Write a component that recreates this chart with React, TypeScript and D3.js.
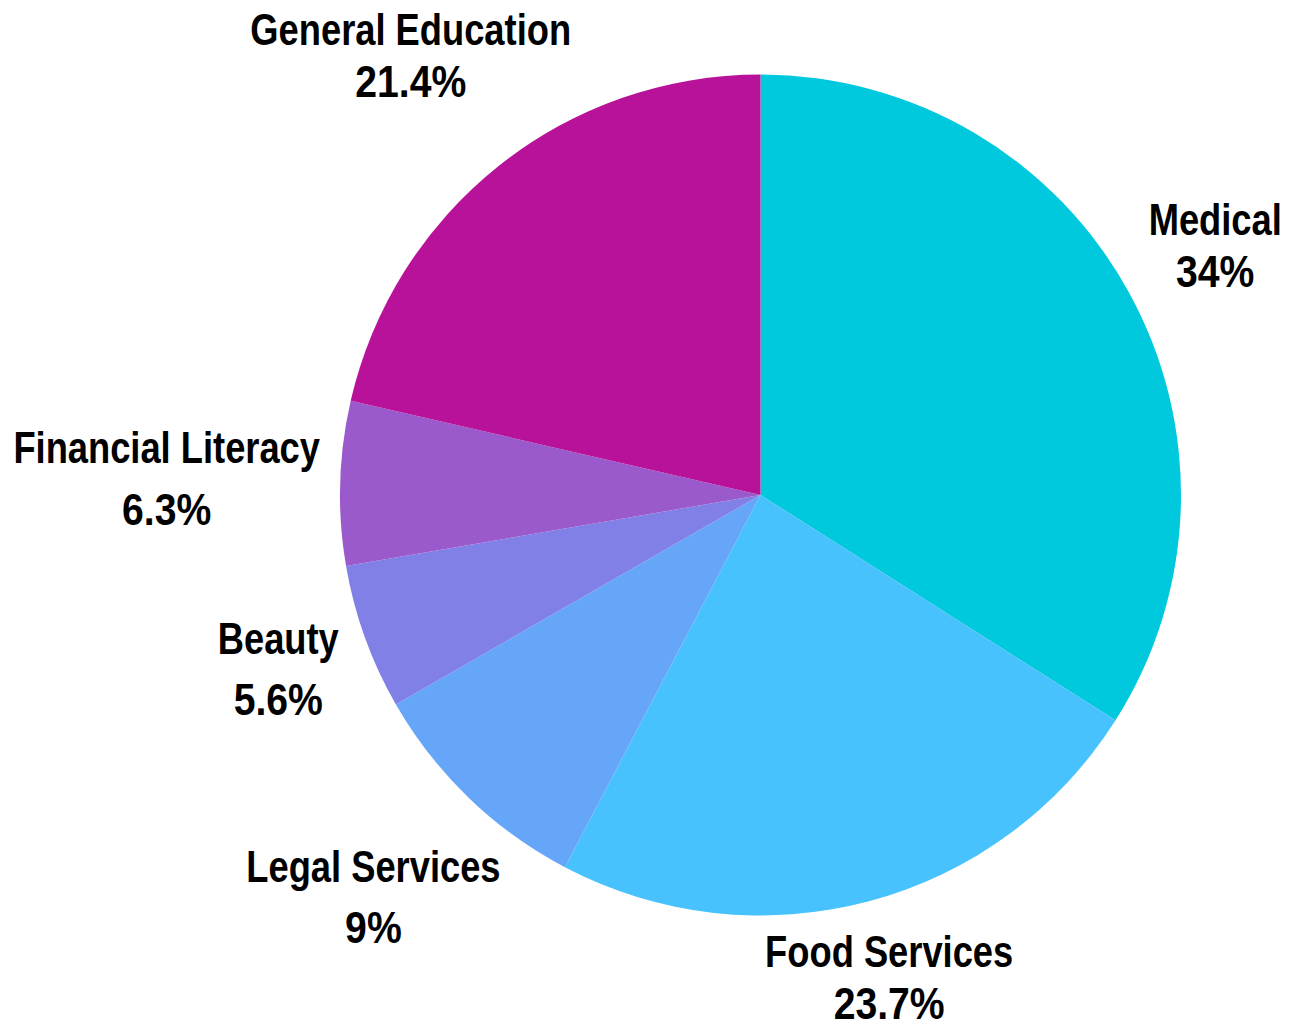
import React, { useEffect, useRef } from 'react';
import * as d3 from 'd3';

const categories = ['Medical', 'Food Services', 'Legal Services', 'Beauty', 'Financial Literacy', 'General Education'];
const values = [34, 23.7, 9, 5.6, 6.3, 21.4];
const colors = ['#00C9DD', '#48C2FD', '#66A6F9', '#8080E6', '#9A5ACB', '#B8129A'];

const W = 1294;
const H = 1024;

export default function App() {
  const ref = useRef<SVGSVGElement>(null);
  useEffect(() => {
    const svg = d3.select(ref.current);
    svg.selectAll('*').remove();
    const cx = 760.5, cy = 495, r = 420.5;
    const g = svg.append('g').attr('transform', `translate(${cx},${cy})`);
    const pie = d3.pie<number>().sort(null).value((d) => d);
    const arcs = pie(values);
    const arc = d3.arc<d3.PieArcDatum<number>>().innerRadius(0).outerRadius(r);
    g.selectAll('path.slice')
      .data(arcs)
      .join('path')
      .attr('class', 'slice')
      .attr('d', arc as any)
      .attr('fill', (_d, i) => colors[i]);

    const fs = 44;
    const sxName = 0.825;
    const sxPct = 0.89;
    const cap = 0.716 * fs;
    const gap = 20.5;
    const desc = 0.21 * fs;
    const clear = r + 20;
    const clamp = (v: number, lo: number, hi: number) => Math.max(lo, Math.min(hi, v));
    const font = "'Liberation Sans Narrow', 'Arial Narrow', 'Liberation Sans', Arial, sans-serif";

    arcs.forEach((a, i) => {
      const name = categories[i];
      const pct = `${values[i]}%`;
      const hasDesc = /[gjpqy]/.test(name);
      const lg = g.append('g');
      const dy2 = (hasDesc ? desc : 0) + gap + cap;
      const mk = (txt: string, y: number, s: number) =>
        lg
          .append('text')
          .attr('font-family', font)
          .attr('font-weight', 700)
          .attr('font-size', fs)
          .attr('fill', '#000')
          .attr('text-anchor', 'middle')
          .attr('transform', `translate(0,${y}) scale(${s},1)`)
          .text(txt);
      const t1 = mk(name, 0, sxName);
      const t2 = mk(pct, dy2, sxPct);
      const w = Math.max(
        sxName * (t1.node() as SVGTextElement).getComputedTextLength(),
        sxPct * (t2.node() as SVGTextElement).getComputedTextLength()
      );
      const h = cap + dy2;
      const ang = (a.startAngle + a.endAngle) / 2;
      const ux = Math.sin(ang), uy = -Math.cos(ang);
      const dist = (d: number) => {
        const bx = d * ux, by = d * uy;
        const nx = clamp(0, bx - w / 2, bx + w / 2);
        const ny = clamp(0, by - h / 2, by + h / 2);
        return Math.hypot(nx, ny);
      };
      let lo = 0, hi = 1200;
      for (let k = 0; k < 60; k++) {
        const mid = (lo + hi) / 2;
        if (dist(mid) < clear) lo = mid;
        else hi = mid;
      }
      const d = hi;
      const bx = d * ux, by = d * uy;
      lg.attr('transform', `translate(${bx},${by - h / 2 + cap})`);
    });
  }, []);
  return <svg ref={ref} width={W} height={H} style={{ position: 'absolute', left: 0, top: 0 }} />;
}
